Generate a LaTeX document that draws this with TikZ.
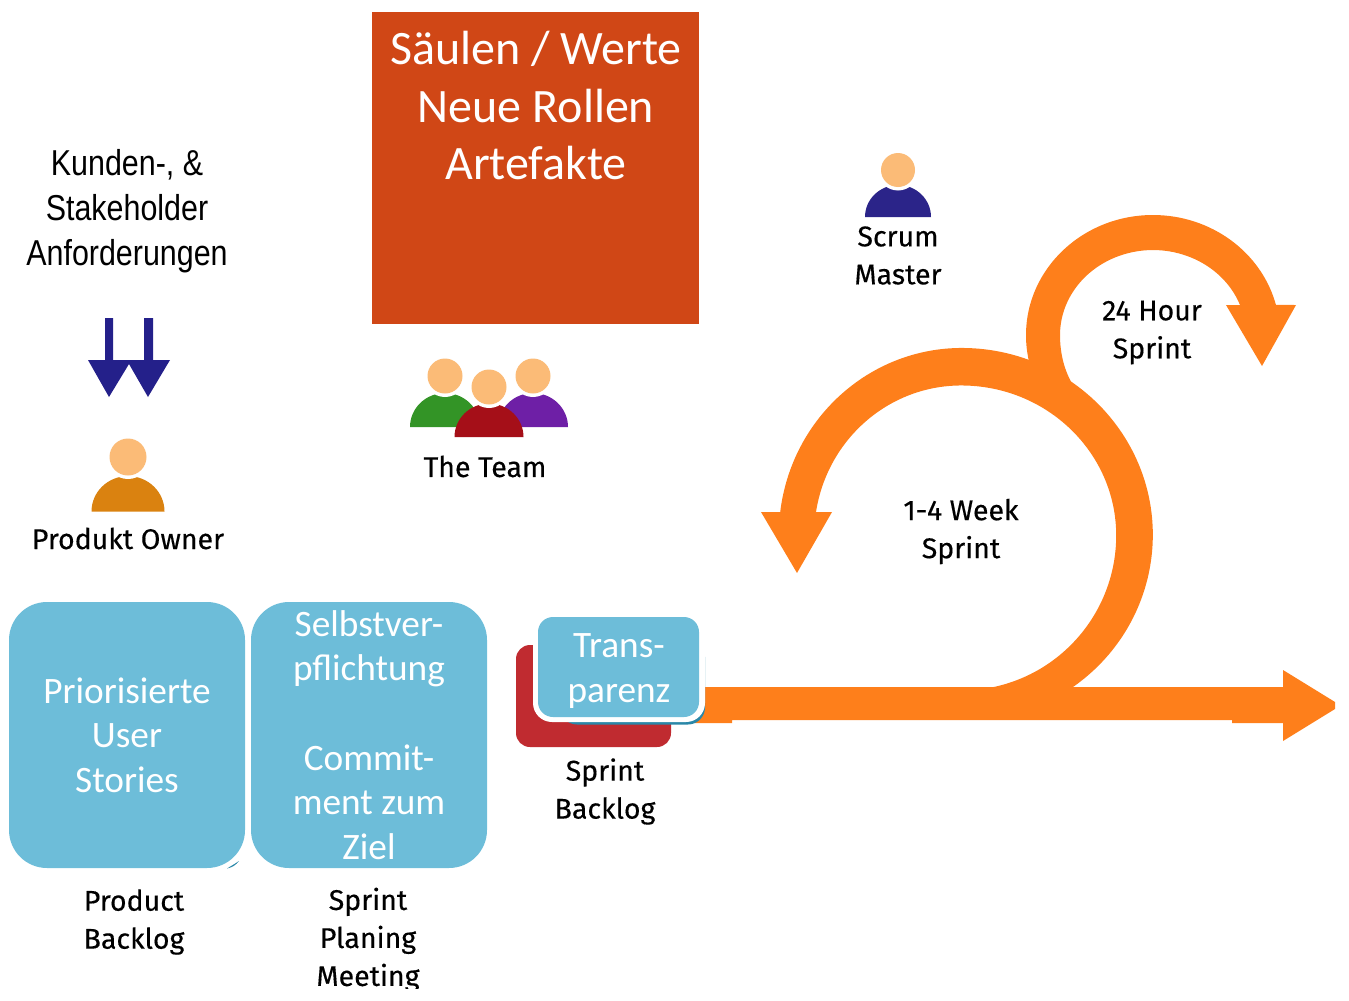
\documentclass[tikz,border=0pt]{standalone}
\usepackage{fontspec}
\setmainfont{Carlito}
\newfontfamily\labelfont[FakeBold=0.35]{Fira Sans}
\newfontfamily\narrowfont[FakeStretch=0.845]{Liberation Sans}
\definecolor{sqorange}{HTML}{FE7F1B}
\definecolor{sqrust}{HTML}{D04716}
\definecolor{sqblue}{HTML}{6DBDD9}
\definecolor{sqteal}{HTML}{2A87A8}
\definecolor{sqred}{HTML}{C02B30}
\definecolor{sqnavy}{HTML}{24208A}
\definecolor{sqskin}{HTML}{FBBB77}
\definecolor{sqamber}{HTML}{DA8210}
\definecolor{sqgreen}{HTML}{339426}
\definecolor{sqpurple}{HTML}{6E1FA6}
\definecolor{sqcrim}{HTML}{A50F18}
\definecolor{sqdeep}{HTML}{2B2489}
\newcommand{\person}[6]{% head x, head y, head r, body half width, bottom y, colour
  \fill[#6] (#1-#4,-#5) arc[start angle=180,end angle=0,x radius=#4,y radius=#4*0.97] -- cycle;
  \fill[white] (#1,-#2) circle[radius=#3+3.5];
  \fill[sqskin] (#1,-#2) circle[radius=#3];
}
\tikzset{
  x=1pt,y=1pt,
  bluebox/.style={fill=sqblue,rounded corners=38pt,minimum width=236pt,minimum height=266pt,inner sep=0pt,text=white,align=center,font=\fontsize{37.3}{44.6}\selectfont},
  lbl/.style={font=\labelfont\fontsize{28.5}{38}\selectfont,align=center,text=black,inner sep=0pt},
  orangepart/.style={fill=sqorange},
}
\begin{document}
\begin{tikzpicture}
\useasboundingbox (0,0) rectangle (1349,-1001);
% title block
\node[fill=sqrust,minimum width=327.5pt,minimum height=312pt,inner sep=0pt] (head) at (535.7,-168) {};
\node[text=white,align=center,font=\fontsize{48}{57.5}\selectfont,inner sep=0pt,anchor=north] (headtxt) at (536,-31) {Säulen / Werte\\Neue Rollen\\Artefakte};
% requirements
\node[font=\narrowfont\fontsize{36}{45}\selectfont,align=center,inner sep=0pt] (req) at (127,-211) {Kunden-, \&\\Stakeholder\\Anforderungen};
\fill[sqnavy] (105,-318) -- (113,-318) -- (113,-360) -- (144,-360) -- (144,-318) -- (153,-318) -- (153,-360) -- (170,-360) -- (148,-397) -- (129,-364) -- (109,-397) -- (88,-360) -- (105,-360) -- cycle;
% people
\person{128}{457}{18.5}{36.5}{511.5}{sqamber}
\node[lbl] (po) at (128,-538.5) {Produkt Owner};
\person{445}{376}{17.5}{35}{427}{sqgreen}
\person{533}{376}{17.5}{35}{427}{sqpurple}
\person{489}{387}{17.5}{34.5}{437}{sqcrim}
\node[lbl] (team) at (485,-466.5) {The Team};
\person{898}{170}{17}{33}{217}{sqdeep}
\node[lbl] (sm) at (898,-255.5) {Scrum\\Master};
% sprint spiral
\fill[orangepart]
  (695,-687) -- (1283,-687) -- (1283,-670) -- (1335,-702) -- (1335,-709) -- (1283,-741) -- (1283,-723) -- (1232,-723) -- (1232,-720) -- (732,-720) -- (732,-723) -- (695,-723) -- cycle;
\fill[orangepart]
  (1073,-687)
  arc[start angle=-54.4,end angle=90,x radius=191,y radius=187]
  arc[start angle=90,end angle=173,x radius=183,y radius=187]
  -- (761,-512) -- (797,-573) -- (832,-512) -- (816,-512)
  arc[start angle=171,end angle=90,x radius=147,y radius=150]
  arc[start angle=90,end angle=0,x radius=155,y radius=150]
  arc[start angle=0,end angle=-78.4,radius=155]
  -- cycle;
\fill[orangepart]
  (1050,-400) -- (1029,-362) .. controls (1027,-352) and (1026,-345) .. (1026,-335)
  arc[start angle=180,end angle=14.5,x radius=127,y radius=120]
  -- (1296,-305) -- (1262,-366) -- (1226,-305) -- (1240,-305)
  arc[start angle=20.7,end angle=180,x radius=93,y radius=85]
  .. controls (1060,-355) and (1065,-372) .. (1073,-385) -- cycle;
\node[lbl] (day) at (1152,-332.5) {24 Hour\\Sprint};
\node[lbl] (week) at (961,-531.5) {1-4 Week\\Sprint};
% sprint backlog
\fill[sqred] (516,-645) [rounded corners=14pt] -- (671,-645) -- (671,-747) -- (516,-747) -- cycle;
\fill[sqteal,rounded corners=17pt] (560,-640) rectangle (705,-724.5);
\fill[white,rounded corners=19pt] (533,-612) rectangle (705,-722);
\node[fill=sqblue,rounded corners=15pt,minimum width=161pt,minimum height=100pt,inner sep=0pt] (tr) at (618.5,-667) {};
\node[text=white,align=center,font=\fontsize{37.3}{44.6}\selectfont,inner sep=0pt] (trtxt) at (619,-671) {Trans-\\parenz};
\node[lbl] (sb) at (605,-791.5) {Sprint\\Backlog};
% boxes
\fill[sqteal] (227,-868.5) .. controls (232,-867.5) and (236,-865) .. (239,-861) .. controls (236,-863) and (232,-865.5) .. (227,-868.5) -- cycle;
\node[bluebox] (pbbox) at (127,-735) {Priorisierte\\User\\Stories};
\node[bluebox] (spbox) at (369,-735) {Selbstver-\\pflichtung\\[44.6pt]Commit-\\ment zum\\Ziel};
\node[lbl] (pb) at (134,-922) {Product\\Backlog};
\begin{scope}
\clip (250,-860) rectangle (490,-988);
\node[lbl,anchor=north] (sp) at (368,-887.5) {Sprint\\Planing\\Meeting};
\end{scope}
\end{tikzpicture}
\end{document}
